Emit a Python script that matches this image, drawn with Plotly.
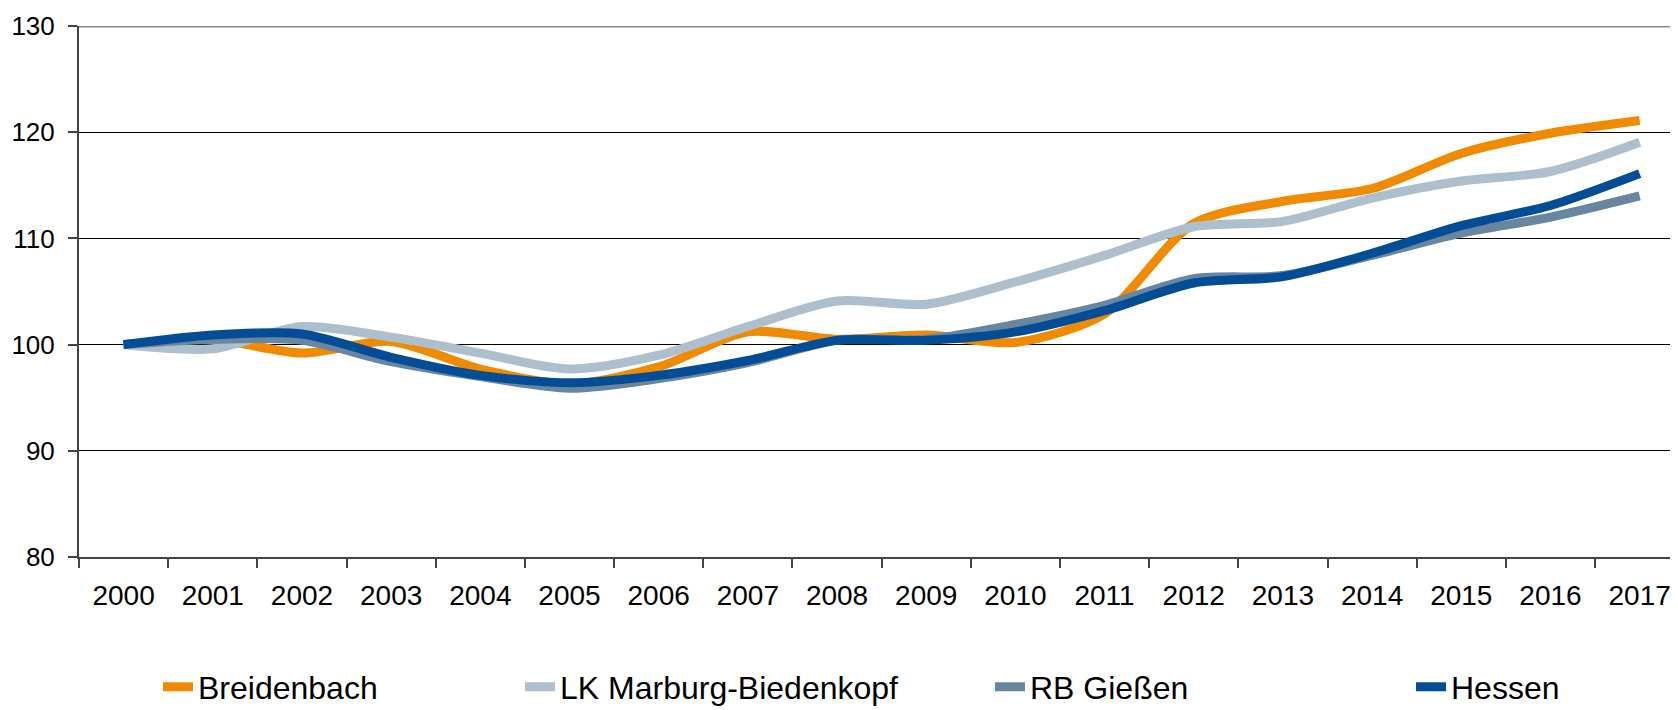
import plotly.graph_objects as go

years = [str(y) for y in range(2000, 2018)]
breidenbach = [100.0, 100.5, 99.2, 100.3, 97.7, 96.3, 97.9, 101.2, 100.5, 100.9, 100.2, 102.9, 111.4, 113.5, 114.7, 118.0, 119.9, 121.1]
lk_marburg = [100.0, 99.6, 101.7, 100.7, 99.2, 97.7, 99.0, 101.7, 104.1, 103.8, 105.9, 108.4, 111.1, 111.6, 113.8, 115.4, 116.3, 119.05]
rb_giessen = [100.0, 100.5, 100.4, 98.4, 97.0, 95.9, 96.8, 98.3, 100.4, 100.5, 101.9, 103.7, 106.2, 106.5, 108.4, 110.5, 112.0, 114.0]
hessen = [100.0, 100.9, 101.0, 98.8, 97.1, 96.4, 97.1, 98.5, 100.4, 100.4, 101.2, 103.2, 105.8, 106.4, 108.6, 111.2, 113.1, 116.1]

names = ["Breidenbach", "LK Marburg-Biedenkopf", "RB Gießen", "Hessen"]
series = [breidenbach, lk_marburg, rb_giessen, hessen]
colors = ["#F08A00", "#ADBECC", "#6886A0", "#024D96"]
legends = ["legend", "legend2", "legend3", "legend4"]

FONT = "Liberation Sans, Arial, sans-serif"

fig = go.Figure()
for n, s, c, lg in zip(names, series, colors, legends):
    fig.add_trace(go.Scatter(
        x=years, y=s, name=n, mode="lines",
        line=dict(color=c, width=9, shape="spline", smoothing=0.8),
        legend=lg,
    ))

# page body has an 8px margin, so the figure is offset by (8, 8) on screen
OFF = 8
W, H = 1678 - OFF, 710 - OFF
L, R, T, B = 79 - OFF, 0, 26 - OFF, 710 - 557
pw = W - L - R
ph = H - T - B

def px_x(p):
    return (p - OFF - L) / pw

leg_y = (H - B - (687 - OFF)) / ph
text_starts = [200, 562, 1032, 1453]
leg_common = dict(orientation="h", yanchor="middle", xanchor="left",
                  font=dict(family=FONT, size=32, color="#000000"),
                  bgcolor="rgba(0,0,0,0)", tracegroupgap=0, itemwidth=30)
layout_legends = {}
for lg, ts in zip(legends, text_starts):
    layout_legends[lg] = dict(x=px_x(ts - 42), y=leg_y, **leg_common)

fig.update_layout(
    width=W, height=H,
    margin=dict(l=L, r=R, t=T, b=B, pad=0, autoexpand=False),
    paper_bgcolor="white", plot_bgcolor="white",
    showlegend=True,
    font=dict(family=FONT, size=28, color="#000000"),
    xaxis=dict(
        type="category", range=[-0.5, 17.43], automargin=False,
        showgrid=False, showline=True, linecolor="#444444", linewidth=2,
        ticks="outside", tickson="boundaries", ticklen=9, tickcolor="#444444", tickwidth=1.5,
        tickfont=dict(family=FONT, size=28, color="#000000"),
        ticklabelstandoff=12,
        zeroline=False, fixedrange=True,
    ),
    yaxis=dict(
        range=[80, 130], tickvals=[80, 90, 100, 110, 120, 130], automargin=False,
        showgrid=True, gridcolor="#000000", gridwidth=1,
        showline=True, linecolor="#444444", linewidth=2,
        ticks="outside", ticklen=9, tickcolor="#444444", tickwidth=1.5,
        tickfont=dict(family=FONT, size=26, color="#000000"),
        ticklabelstandoff=8,
        zeroline=False, fixedrange=True,
    ),
    **layout_legends,
)

fig.add_shape(type="line", xref="paper", yref="y", x0=0, x1=1, y0=130, y1=130,
              line=dict(color="#8C8C8C", width=3), layer="above")

fig.write_html("out.html")
